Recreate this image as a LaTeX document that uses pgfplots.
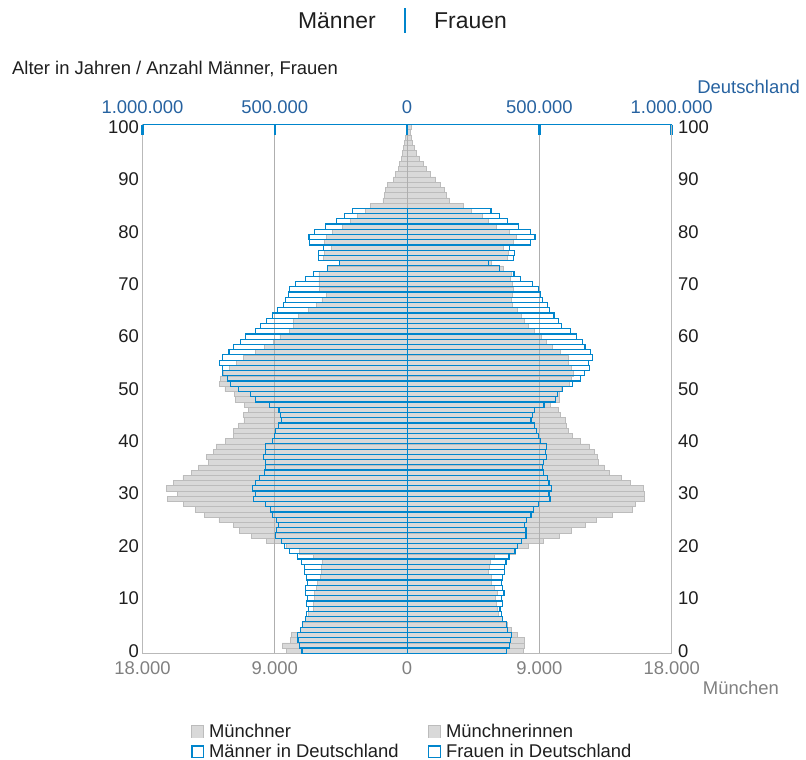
\documentclass[border=0pt]{standalone}
\usepackage{pgfplots}
\pgfplotsset{compat=1.18}
\usepackage{pgfplotstable}
\usepackage{fontspec}
\setmainfont{Liberation Sans}
\definecolor{blueline}{RGB}{0,133,204}
\definecolor{bluetext}{RGB}{38,98,160}
\definecolor{graytext}{RGB}{128,128,128}
\definecolor{darktext}{RGB}{30,30,30}
\definecolor{barfill}{RGB}{217,217,217}
\definecolor{baredge}{RGB}{188,188,188}
\definecolor{axisgray}{RGB}{185,185,185}
\definecolor{gridgray}{RGB}{175,175,175}

% München: men (negative, left) and women (right)
\pgfplotstableread{
age mm mw
0 -8200 7900
1 -8500 7980
2 -7950 7980
3 -7870 7500
4 -7250 7070
5 -7100 6800
6 -6900 6500
7 -6700 6200
8 -6400 6150
9 -6400 6050
10 -6300 6000
11 -6300 6150
12 -6150 5950
13 -6100 5700
14 -5900 5750
15 -5850 5550
16 -5850 5600
17 -5750 5650
18 -6400 5950
19 -7350 7350
20 -8250 8250
21 -9550 9250
22 -10600 10350
23 -11400 11200
24 -11800 12100
25 -12800 12900
26 -13800 13950
27 -14400 15300
28 -15200 15500
29 -16300 16150
30 -15600 16150
31 -16400 16100
32 -15900 15200
33 -15250 14550
34 -14700 13750
35 -14200 13400
36 -13500 13000
37 -13650 12950
38 -13200 12750
39 -13000 12400
40 -12350 11800
41 -11800 11250
42 -11800 10950
43 -11450 10800
44 -11100 10750
45 -11150 10400
46 -10800 10300
47 -11050 9750
48 -11700 10350
49 -11750 10350
50 -12400 10500
51 -12750 11000
52 -12700 11150
53 -12500 11300
54 -12100 11200
55 -11600 10950
56 -11150 10950
57 -10300 10450
58 -9700 9850
59 -9100 9500
60 -8650 9150
61 -8000 8650
62 -7750 8250
63 -7750 7950
64 -7400 7800
65 -6700 7500
66 -6150 7150
67 -5800 7100
68 -5500 7150
69 -5950 7200
70 -6000 7150
71 -6000 7000
72 -6000 7100
73 -5400 6550
74 -4600 5700
75 -5700 6850
76 -5600 6900
77 -5150 6550
78 -5650 7250
79 -5500 7400
80 -5100 6950
81 -4400 6100
82 -3850 5550
83 -3400 5100
84 -2850 4400
85 -2500 3850
86 -1650 2900
87 -1550 2650
88 -1450 2500
89 -1350 2250
90 -950 1950
91 -800 1600
92 -600 1300
93 -500 1100
94 -400 850
95 -300 650
96 -250 480
97 -170 360
98 -100 300
99 -60 250
100 -60 300
}\muc

% Deutschland: men (negative, left) and women (right)
\pgfplotstableread{
age dm dw
0 -397000 376000
1 -408000 387000
2 -412000 390000
3 -413000 395000
4 -402000 380000
5 -396000 376000
6 -384000 361000
7 -380000 358000
8 -372000 351000
9 -380000 361000
10 -376000 358000
11 -385000 366000
12 -384000 361000
13 -377000 358000
14 -380000 360000
15 -389000 368000
16 -389000 368000
17 -398000 374000
18 -414000 385000
19 -443000 408000
20 -462000 417000
21 -475000 433000
22 -496000 449000
23 -494000 449000
24 -487000 443000
25 -494000 452000
26 -510000 468000
27 -515000 477000
28 -534000 496000
29 -582000 540000
30 -573000 536000
31 -585000 546000
32 -572000 536000
33 -559000 530000
34 -540000 515000
35 -535000 512000
36 -534000 515000
37 -543000 526000
38 -535000 524000
39 -535000 528000
40 -509000 504000
41 -501000 496000
42 -496000 488000
43 -486000 482000
44 -475000 468000
45 -479000 475000
46 -484000 480000
47 -521000 517000
48 -573000 562000
49 -592000 568000
50 -638000 588000
51 -667000 626000
52 -680000 655000
53 -698000 671000
54 -698000 690000
55 -708000 687000
56 -698000 700000
57 -673000 692000
58 -655000 672000
59 -630000 662000
60 -610000 640000
61 -572000 619000
62 -554000 584000
63 -532000 572000
64 -509000 555000
65 -490000 538000
66 -466000 530000
67 -460000 511000
68 -448000 503000
69 -443000 496000
70 -423000 473000
71 -383000 429000
72 -353000 404000
73 -300000 350000
74 -256000 307000
75 -336000 403000
76 -336000 405000
77 -317000 387000
78 -370000 467000
79 -371000 483000
80 -351000 467000
81 -308000 420000
82 -266000 378000
83 -237000 349000
84 -207000 317000
}\de

\begin{document}
\begin{tikzpicture}[font=\fontsize{18.5}{22}\selectfont]
\path[use as bounding box] (0,0) rectangle (806bp,-760bp);

% title and texts
\node[anchor=base east, inner sep=0pt, text=darktext, font=\fontsize{23}{27}\selectfont] at (376bp,-28bp) {Männer};
\draw[blueline, line width=1.5bp] (405bp,-8bp) -- (405bp,-33bp);
\node[anchor=base west, inner sep=0pt, text=darktext, font=\fontsize{23}{27}\selectfont] at (434bp,-28bp) {Frauen};
\node[anchor=base west, inner sep=0pt, text=darktext] at (12bp,-74.5bp) {Alter in Jahren / Anzahl Männer, Frauen};
\node[anchor=base east, inner sep=0pt, text=bluetext] at (800bp,-93.5bp) {Deutschland};
\node[anchor=base east, inner sep=0pt, text=graytext] at (779bp,-694.5bp) {München};

% München axis (bottom)
\begin{axis}[
  at={(142.5bp,-653.3bp)}, anchor=south west,
  scale only axis, width=529.2bp, height=528.8bp,
  xmin=-18000, xmax=18000, ymin=-0.5, ymax=100.5,
  xbar, bar width=1, bar shift=0pt,
  xtick={-18000,-9000,0,9000,18000},
  xticklabels={18.000,9.000,0,9.000,18.000},
  ytick={0,10,...,100},
  scaled x ticks=false,
  xmajorgrids, grid style={color=gridgray, line width=0.9bp},
  axis line style={color=axisgray, line width=1.5bp},
  major tick length=0pt,
  xticklabel style={text=graytext, yshift=-5bp},
  yticklabel style={text=darktext},
  tick label style={font=\fontsize{18.5}{22}\selectfont},
  /pgf/number format/assume math mode=true,
  axis on top,
]
\addplot[fill=barfill, draw=baredge, line width=0.6bp] table[y=age, x=mm] {\muc};
\addplot[fill=barfill, draw=baredge, line width=0.6bp] table[y=age, x=mw] {\muc};
\end{axis}

% Deutschland axis (top)
\begin{axis}[
  at={(142.5bp,-653.3bp)}, anchor=south west,
  scale only axis, width=529.2bp, height=528.8bp,
  xmin=-1000000, xmax=1000000, ymin=-0.5, ymax=100.5,
  xbar, bar width=1, bar shift=0pt,
  axis x line*=top, axis y line*=right,
  x axis line style={color=blueline, line width=1.5bp},
  y axis line style={color=axisgray, line width=1.5bp},
  xtick={-1000000,-500000,0,500000,1000000},
  xticklabels={1.000.000,500.000,0,500.000,1.000.000},
  scaled x ticks=false,
  ytick={0,10,...,100},
  tick align=inside,
  major tick length=10bp,
  xtick style={color=blueline, line width=2.5bp},
  ytick style={draw=none},
  xticklabel style={text=bluetext, yshift=7bp},
  yticklabel style={text=darktext, xshift=3bp},
  tick label style={font=\fontsize{18.5}{22}\selectfont},
  /pgf/number format/assume math mode=true,
  axis on top,
  legend columns=2,
  legend cell align=left,
  legend style={draw=none, fill=none, at={(0.086,-0.127)}, anchor=north west,
    font=\fontsize{18.5}{22}\selectfont,
    nodes={inner sep=1.5bp}, row sep=2bp,
    /tikz/every odd column/.append style={column sep=4bp},
    /tikz/every even column/.append style={column sep=28bp}},
]
\addplot[fill=none, draw=blueline, line width=1.2bp, forget plot] table[y=age, x=dm] {\de};
\addplot[fill=none, draw=blueline, line width=1.2bp, forget plot] table[y=age, x=dw] {\de};
\addlegendimage{legend image code/.code={\fill[baredge] (0bp,-6bp) rectangle (12bp,6bp); \fill[barfill] (0.8bp,-5.2bp) rectangle (11.2bp,5.2bp);}}
\addlegendentry{\textcolor{darktext}{Münchner}}
\addlegendimage{legend image code/.code={\fill[baredge] (0bp,-6bp) rectangle (12bp,6bp); \fill[barfill] (0.8bp,-5.2bp) rectangle (11.2bp,5.2bp);}}
\addlegendentry{\textcolor{darktext}{Münchnerinnen}}
\addlegendimage{legend image code/.code={\fill[blueline] (0bp,-6bp) rectangle (12bp,6bp); \fill[white] (1.3bp,-4.7bp) rectangle (10.7bp,4.7bp);}}
\addlegendentry{\textcolor{darktext}{Männer in Deutschland}}
\addlegendimage{legend image code/.code={\fill[blueline] (0bp,-6bp) rectangle (12bp,6bp); \fill[white] (1.3bp,-4.7bp) rectangle (10.7bp,4.7bp);}}
\addlegendentry{\textcolor{darktext}{Frauen in Deutschland}}
\end{axis}
\end{tikzpicture}
\end{document}
